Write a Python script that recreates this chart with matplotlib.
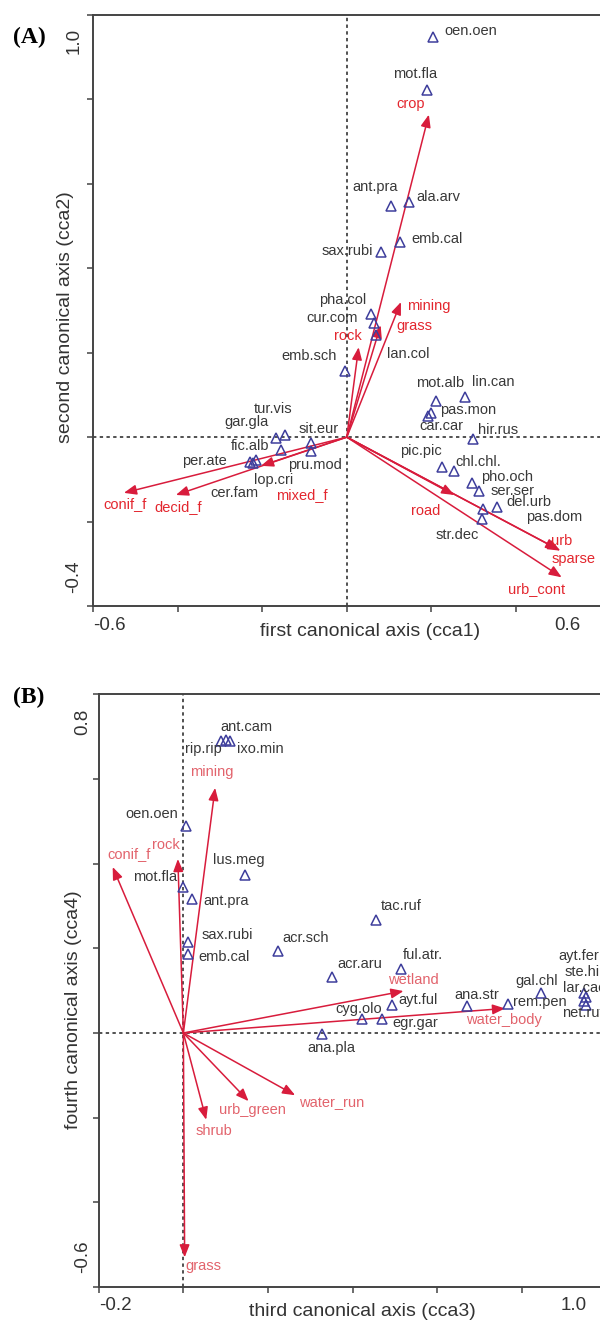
import matplotlib
matplotlib.use("Agg")
import matplotlib.pyplot as plt
from matplotlib.transforms import offset_copy

# ---------------- data: panel A (cca1 vs cca2) ----------------
A_species = ["oen.oen", "mot.fla", "ant.pra", "ala.arv", "emb.cal", "sax.rubi",
             "pha.col", "cur.com", "lan.col", "emb.sch", "mot.alb", "lin.can",
             "pas.mon", "car.car", "hir.rus", "pic.pic", "chl.chl.", "pho.och",
             "ser.ser", "del.urb", "pas.dom", "str.dec", "sit.eur", "pru.mod",
             "tur.vis", "gar.gla", "fic.alb", "per.ate", "lop.cri", "cer.fam"]
A_x = [0.204, 0.189, 0.105, 0.146, 0.126, 0.080, 0.058, 0.064, 0.070, -0.005,
       0.212, 0.279, 0.200, 0.193, 0.298, 0.225, 0.254, 0.297, 0.313, 0.356,
       0.322, 0.320, -0.085, -0.085, -0.147, -0.167, -0.156, -0.230, -0.214, -0.221]
A_y = [0.949, 0.823, 0.547, 0.556, 0.462, 0.438, 0.291, 0.270, 0.241, 0.157,
       0.086, 0.095, 0.057, 0.050, -0.005, -0.070, -0.080, -0.108, -0.127, -0.166,
       -0.171, -0.195, -0.013, -0.033, 0.005, -0.001, -0.031, -0.060, -0.054, -0.062]

A_env = ["crop", "mining", "grass", "rock", "conif_f", "decid_f", "mixed_f",
         "road", "urb", "sparse", "urb_cont"]
A_env_x = [0.194, 0.128, 0.080, 0.028, -0.527, -0.404, -0.203, 0.254, 0.505, 0.500, 0.508]
A_env_y = [0.764, 0.320, 0.265, 0.213, -0.132, -0.137, -0.068, -0.137, -0.269, -0.266, -0.332]

A_xticks = [-0.6, -0.4, -0.2, 0.0, 0.2, 0.4, 0.6]
A_yticks = [-0.4, -0.2, 0.0, 0.2, 0.4, 0.6, 0.8, 1.0]
A_xticklabels = ["-0.6", "0.6"]
A_yticklabels = ["-0.4", "1.0"]

# ---------------- data: panel B (cca3 vs cca4) ----------------
B_species = ["rip.rip", "ant.cam", "ixo.min", "oen.oen", "lus.meg", "mot.fla",
             "ant.pra", "sax.rubi", "emb.cal", "acr.sch", "tac.ruf", "acr.aru",
             "ful.atr.", "ayt.ful", "cyg.olo", "egr.gar", "ana.pla", "ana.str",
             "rem.pen", "gal.chl", "ayt.fer", "ste.hir", "lar.cac", "net.ruf"]
B_x = [0.089, 0.100, 0.111, 0.006, 0.146, 0.000, 0.021, 0.012, 0.011, 0.223,
       0.454, 0.352, 0.514, 0.493, 0.421, 0.470, 0.328, 0.670, 0.767, 0.844,
       0.947, 0.950, 0.947, 0.950]
B_y = [0.690, 0.692, 0.690, 0.489, 0.374, 0.345, 0.316, 0.215, 0.186, 0.193,
       0.268, 0.132, 0.152, 0.065, 0.034, 0.034, -0.003, 0.064, 0.069, 0.095,
       0.094, 0.084, 0.075, 0.065]

B_env = ["mining", "rock", "conif_f", "wetland", "water_body", "water_run",
         "urb_green", "shrub", "grass"]
B_env_x = [0.075, -0.013, -0.167, 0.520, 0.760, 0.264, 0.154, 0.054, 0.003]
B_env_y = [0.579, 0.411, 0.392, 0.099, 0.058, -0.147, -0.161, -0.205, -0.530]

B_xticks = [-0.2, 0.0, 0.2, 0.4, 0.6, 0.8, 1.0]
B_yticks = [-0.6, -0.4, -0.2, 0.0, 0.2, 0.4, 0.6, 0.8]
B_xticklabels = ["-0.2", "1.0"]
B_yticklabels = ["-0.6", "0.8"]

# ---------------- label offsets (pixels) ----------------
A_sp_off = {"oen.oen": (37.5, 5.7), "mot.fla": (-12, 15.4), "ant.pra": (-16.4, 19),
            "ala.arv": (29.4, 5.7), "emb.cal": (37, 3.4), "sax.rubi": (-33.7, 1),
            "pha.col": (-29, 14), "cur.com": (-42, 5.4), "lan.col": (31.8, -18.3),
            "emb.sch": (-35.7, 14.7), "mot.alb": (3.8, 17.4), "lin.can": (28, 15),
            "pas.mon": (36.4, 2.7), "car.car": (13.4, -10), "hir.rus": (24.8, 9.7),
            "pic.pic": (-21.5, 16), "chl.chl.": (24.1, 9), "pho.och": (34.8, 5.7),
            "ser.ser": (32.9, -0.3), "del.urb": (31.3, 5), "pas.dom": (71.2, -7.4),
            "str.dec": (-25.2, -15.7), "sit.eur": (7.6, 14), "pru.mod": (4.6, -14),
            "tur.vis": (-11.5, 26), "gar.gla": (-30, 15.3), "fic.alb": (-31, 4.3),
            "per.ate": (-44.8, 1.3), "lop.cri": (17.6, -20), "cer.fam": (-18.8, -29.4)}
A_env_off = {"crop": (-18.4, 10.7), "mining": (28.2, -4.3), "grass": (33.3, -1),
             "rock": (-10.7, 11.7), "conif_f": (1.2, -11.3), "decid_f": (2.7, -12.3),
             "mixed_f": (41.4, -29.3), "road": (-28.3, -15.7), "urb": (1.5, 10),
             "sparse": (15, -9.5), "urb_cont": (-24.9, -12)}
B_sp_off = {"rip.rip": (-17.6, -8), "ant.cam": (21, 13.3), "ixo.min": (29.8, -8),
            "oen.oen": (-33.7, 11.7), "lus.meg": (-6.5, 14.3), "mot.fla": (-28.3, 10),
            "ant.pra": (34.1, -1.7), "sax.rubi": (39, 6.7), "emb.cal": (36.3, -2.7),
            "acr.sch": (28.3, 13.7), "tac.ruf": (26, 14), "acr.aru": (27.9, 13.4),
            "ful.atr.": (22.2, 13.3), "ayt.ful": (26.4, 5.7), "cyg.olo": (-3.4, 9.3),
            "egr.gar": (32.5, -4.4), "ana.pla": (8.8, -13.3), "ana.str": (9.9, 11),
            "rem.pen": (31.8, 1.6), "gal.chl": (-4.3, 12)}
B_left_off = {"ayt.fer": (-26, 37.3), "ste.hir": (-21.2, 25.5),
              "lar.cac": (-21.6, 13.3), "net.ruf": (-23.8, -7.5)}
B_env_off = {"mining": (-3.5, 16), "rock": (-12.3, 14), "conif_f": (16.1, 13.4),
             "wetland": (10, 11.4), "water_body": (-1.6, -11.7),
             "water_run": (36.4, -7.3), "urb_green": (4.2, -9.3),
             "shrub": (7.6, -11.4), "grass": (18.8, -9)}

# ---------------- styling ----------------
FONT = "Liberation Sans"
SP_COL = "#383838"
TRI_COL = "#3e3e9c"
ARROW_COL = "#d81c3c"
A_ENV_COL = "#e3262e"
B_ENV_COL = "#e2636c"
SP_FS = 10.5
W, H = 600, 1322

fig = plt.figure(figsize=(W / 100, H / 100), dpi=100)
fig.patch.set_facecolor("white")


def px(x, y):
    return x / W, 1 - y / H


def setup(ax, xlim, ylim, xticks, yticks):
    ax.set_xlim(*xlim)
    ax.set_ylim(*ylim)
    ax.set_xticks(xticks)
    ax.set_yticks(yticks)
    ax.set_xticklabels([])
    ax.set_yticklabels([])
    ax.tick_params(length=4, width=1.1, color="#444444", direction="out")
    for s in ax.spines.values():
        s.set_color("#444444")
        s.set_linewidth(1.4)
    ax.axhline(0, color="#222222", lw=1.1, ls=(0, (2.2, 2.2)), zorder=1)
    ax.axvline(0, color="#222222", lw=1.1, ls=(0, (2.2, 2.2)), zorder=1)


def end_labels(ax, xticks, yticks, xlabs, ylabs, xdy, xr_dx, ydx, yin):
    tx0 = offset_copy(ax.get_xaxis_transform(), fig=fig, x=0, y=xdy, units="dots")
    tx1 = offset_copy(ax.get_xaxis_transform(), fig=fig, x=xr_dx, y=xdy, units="dots")
    ax.text(xticks[0], 0, xlabs[0], transform=tx0, ha="left", va="center",
            fontsize=13.5, family=FONT, color="#333333")
    ax.text(xticks[-1], 0, xlabs[1], transform=tx1, ha="right", va="center",
            fontsize=13.5, family=FONT, color="#333333")
    ty0 = offset_copy(ax.get_yaxis_transform(), fig=fig, x=ydx, y=yin, units="dots")
    ty1 = offset_copy(ax.get_yaxis_transform(), fig=fig, x=ydx, y=-yin, units="dots")
    ax.text(0, yticks[0], ylabs[0], transform=ty0, ha="center", va="bottom",
            rotation=90, fontsize=13.5, family=FONT, color="#333333")
    ax.text(0, yticks[-1], ylabs[1], transform=ty1, ha="center", va="top",
            rotation=90, fontsize=13.5, family=FONT, color="#333333")


def draw(ax, sp, sx, sy, sp_off, env, ex, ey, env_off, env_col, left_off=None):
    for n, x, y in zip(env, ex, ey):
        ax.annotate("", xy=(x, y), xytext=(0, 0),
                    arrowprops=dict(arrowstyle="-|>,head_length=0.75,head_width=0.3",
                                    color=ARROW_COL, lw=1.1, shrinkA=0, shrinkB=0,
                                    mutation_scale=10), zorder=3)
        dx, dy = env_off[n]
        ax.annotate(n, xy=(x, y), xytext=(dx, dy), textcoords="offset pixels",
                    ha="center", va="center", fontsize=SP_FS, family=FONT,
                    color=env_col, zorder=5)
    ax.plot(sx, sy, linestyle="none", marker="^", markersize=7,
            markerfacecolor="none", markeredgecolor=TRI_COL, markeredgewidth=1.1,
            zorder=4)
    for n, x, y in zip(sp, sx, sy):
        if left_off is not None and n in left_off:
            dx, dy = left_off[n]
            ha = "left"
        else:
            dx, dy = sp_off[n]
            ha = "center"
        ax.annotate(n, xy=(x, y), xytext=(dx, dy), textcoords="offset pixels",
                    ha=ha, va="center", fontsize=SP_FS, family=FONT,
                    color=SP_COL, zorder=5, annotation_clip=False)


# ---------------- panel A ----------------
axA = fig.add_axes([93 / W, 1 - 606 / H, 507.6 / W, 591 / H])
setup(axA, (-0.6, 0.6), (-0.4, 1.0), A_xticks, A_yticks)
draw(axA, A_species, A_x, A_y, A_sp_off, A_env, A_env_x, A_env_y, A_env_off, A_ENV_COL)
end_labels(axA, A_xticks, A_yticks, A_xticklabels, A_yticklabels, -19, -20, -19, 13)

# ---------------- panel B ----------------
axB = fig.add_axes([98.7 / W, 1 - 1287 / H, 508 / W, 592.7 / H])
setup(axB, (-0.2, 1.0), (-0.6, 0.8), B_xticks, B_yticks)
draw(axB, B_species, B_x, B_y, B_sp_off, B_env, B_env_x, B_env_y, B_env_off, B_ENV_COL,
     left_off=B_left_off)
end_labels(axB, B_xticks, B_yticks, B_xticklabels, B_yticklabels, -18, -20, -16, 14)

# ---------------- axis titles and panel tags ----------------
fig.text(*px(370, 631), "first canonical axis (cca1)", ha="center", va="center",
         fontsize=14, family=FONT, color="#333333")
fig.text(*px(66, 317), "second canonical axis (cca2)", ha="center", va="center",
         rotation=90, fontsize=14, family=FONT, color="#333333")
fig.text(*px(362.5, 1312), "third canonical axis (cca3)", ha="center", va="center",
         fontsize=14, family=FONT, color="#333333")
fig.text(*px(73, 1010), "fourth canonical axis (cca4)", ha="center", va="center",
         rotation=90, fontsize=14, family=FONT, color="#333333")
fig.text(*px(29, 37.5), "(A)", ha="center", va="center", fontsize=17,
         family="Liberation Serif", fontweight="bold", color="black")
fig.text(*px(29, 697.5), "(B)", ha="center", va="center", fontsize=17,
         family="Liberation Serif", fontweight="bold", color="black")

fig.savefig("out.png", dpi=100, facecolor="white")
